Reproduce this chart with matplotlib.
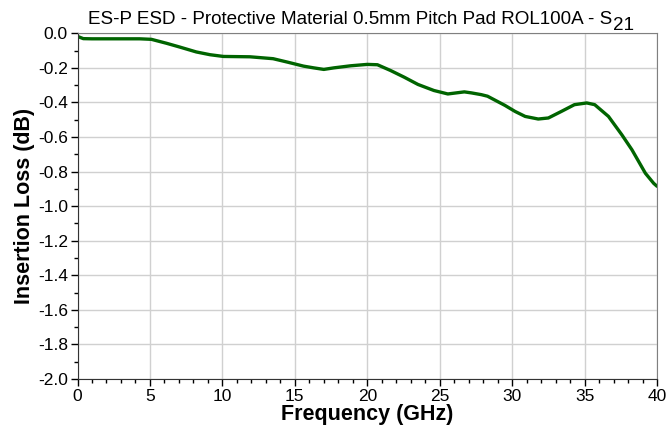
import numpy as np
import matplotlib
matplotlib.use('Agg')
import matplotlib.pyplot as plt
from matplotlib.ticker import MultipleLocator

# S21 insertion loss
freq = [0.0, 0.4, 1.0, 2.0, 3.0, 4.3, 5.1, 6.15, 7.07, 8.2, 9.15, 10.07, 11.9, 13.5,
        14.5, 15.6, 16.3, 17.0, 17.7, 18.86, 20.0, 20.7, 21.6, 22.55, 23.5, 24.6,
        25.56, 26.7, 27.2, 27.87, 28.3, 29.5, 30.2, 30.9, 31.8, 32.5, 33.4, 34.3,
        35.15, 35.7, 36.65, 37.57, 38.27, 39.2, 39.77, 40.0]
loss = [-0.018, -0.031, -0.032, -0.032, -0.032, -0.032, -0.035, -0.058, -0.080,
        -0.108, -0.124, -0.134, -0.136, -0.147, -0.167, -0.190, -0.200, -0.209,
        -0.200, -0.188, -0.180, -0.182, -0.215, -0.254, -0.296, -0.331, -0.351,
        -0.339, -0.345, -0.355, -0.364, -0.417, -0.452, -0.481, -0.496, -0.490,
        -0.452, -0.413, -0.403, -0.413, -0.481, -0.587, -0.674, -0.810, -0.868,
        -0.885]

plt.rcParams['font.family'] = ['Liberation Sans', 'DejaVu Sans']

fig = plt.figure(figsize=(6.66, 4.30), dpi=100)
ax = fig.add_axes([0.1164, 0.1186, 0.8701, 0.804])

ax.plot(freq, loss, color='#006400', linewidth=2.4, solid_capstyle='round',
        solid_joinstyle='round')

ax.set_xlim(0, 40)
ax.set_ylim(-2.0, 0.0)
ax.xaxis.set_major_locator(MultipleLocator(5))
ax.xaxis.set_minor_locator(MultipleLocator(1))
ax.yaxis.set_major_locator(MultipleLocator(0.2))
ax.yaxis.set_minor_locator(MultipleLocator(0.1))
ax.yaxis.set_major_formatter(plt.FuncFormatter(lambda v, p: '%.1f' % v))

ax.grid(True, which='major', color='#d0d0d0', linewidth=1.0)
ax.set_axisbelow(True)
ax.tick_params(which='major', direction='out', length=5, width=1, labelsize=12.5, pad=2)
ax.tick_params(which='minor', direction='out', length=3, width=1)
ax.tick_params(top=False, right=False)

for s in ['top', 'right']:
    ax.spines[s].set_color('#808080')
for s in ['left', 'bottom']:
    ax.spines[s].set_color('#333333')

ax.set_xlabel('Frequency (GHz)', fontsize=15.5, fontweight='bold', labelpad=0)
ax.set_ylabel('Insertion Loss (dB)', fontsize=15.5, fontweight='bold', labelpad=2)

# title with a large, lowered "21" like the original
t = fig.text(0.526, 0.945, 'ES-P ESD - Protective Material 0.5mm Pitch Pad ROL100A - S',
             fontsize=13.6, ha='center', va='baseline')
fig.canvas.draw()
bb = t.get_window_extent()
fig.text(bb.x1 / fig.bbox.width + 0.001, 0.93, '21', fontsize=13.6, ha='left', va='baseline')

fig.savefig('out.png', dpi=100)
